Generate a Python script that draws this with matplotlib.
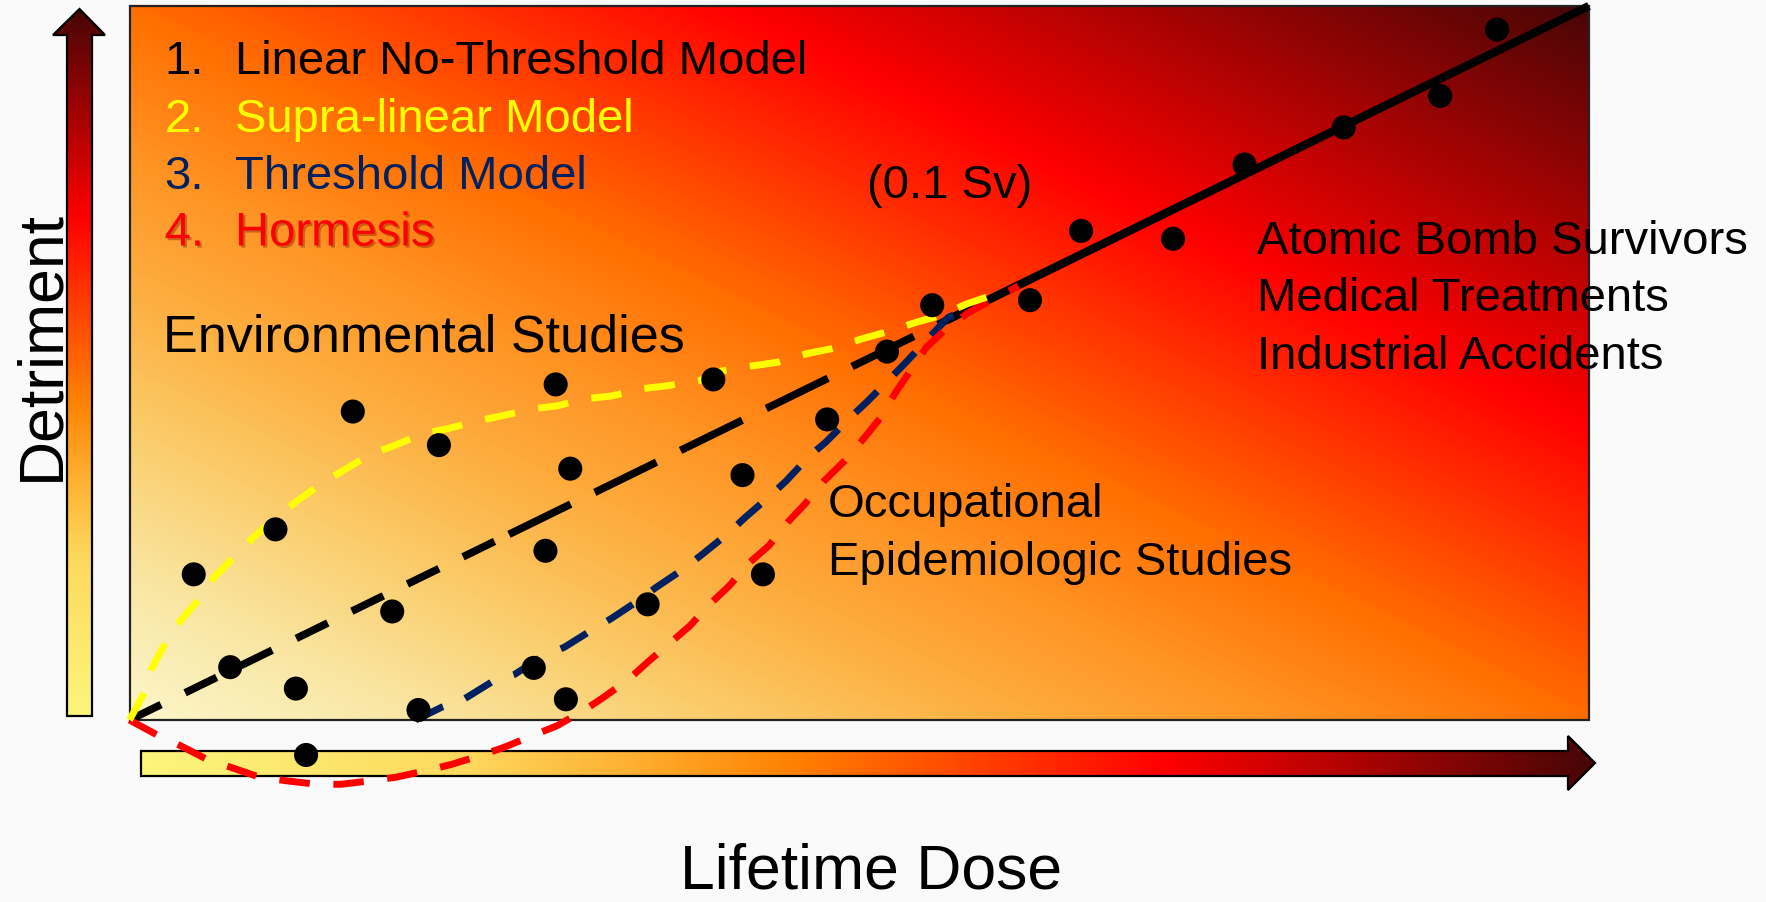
import numpy as np
import matplotlib
matplotlib.use("Agg")
import matplotlib.pyplot as plt
from matplotlib.colors import LinearSegmentedColormap
from matplotlib.patches import Polygon, Rectangle
import matplotlib.patheffects as pe

plt.rcParams['font.family'] = ['Liberation Sans', 'DejaVu Sans']

# ---------------- data (dose / detriment, arbitrary 0-100 units) ----------------
dots_x = [4.4, 6.9, 10.0, 11.4, 12.1, 15.3, 18.0, 19.8, 21.2, 27.7, 28.5, 29.2, 29.9, 30.2,
          35.5, 40.0, 42.0, 43.4, 47.8, 51.9, 55.0, 61.7, 65.2, 71.5, 76.4, 83.2, 89.8, 93.7]
dots_y = [20.4, 7.4, 26.7, 4.4, -4.9, 43.2, 15.2, 1.4, 38.5, 7.3, 23.7, 47.0, 2.9, 35.2,
          16.2, 47.7, 34.3, 20.4, 42.1, 51.6, 58.1, 58.8, 68.5, 67.4, 77.8, 83.0, 87.4, 96.7]

# 1. Linear no-threshold model (low-dose extrapolation dashed, observed range solid)
lnt_low_x, lnt_low_y = [0, 26], [0, 26]
lnt_mid_x, lnt_mid_y = [26, 56], [26, 56]
lnt_high_x, lnt_high_y = [56, 100], [56, 100]

# 2. Supra-linear model
supra_x = [0, 1.1, 1.5, 2.6, 3.5, 4.8, 5.8, 7.5, 8.5, 10.2, 11.5, 13.3, 14.6, 16.6, 18.1, 20.1,
           21.8, 23.9, 25.5, 27.7, 29.3, 31.3, 33.1, 35.1, 36.8, 39.0, 40.6, 42.7, 44.4, 46.4,
           48.1, 50.2, 51.8, 53.9, 55.5, 57.4, 60.0]
supra_y = [0, 4.1, 7.1, 11.3, 13.9, 17.0, 20.0, 23.5, 25.6, 28.6, 30.7, 33.3, 34.9, 37.3, 38.4, 40.1,
           40.8, 41.9, 42.6, 43.6, 44.0, 45.0, 45.4, 46.4, 46.8, 47.5, 48.9, 49.6, 50.1, 51.3,
           52.0, 53.4, 54.3, 55.7, 56.6, 58.3, 60.1]

# 3. Threshold model
thresh_x = [19.6, 21.4, 22.9, 24.8, 26.4, 28.2, 29.8, 31.6, 33.0, 34.7, 36.1, 38.0, 39.3, 41.0,
            42.2, 43.9, 45.0, 46.6, 47.7, 49.4, 50.5, 52.2, 53.2, 54.8, 56.1, 57.5]
thresh_y = [0.0, 1.8, 2.9, 5.3, 6.4, 8.8, 10.2, 12.5, 14.2, 16.5, 18.6, 21.2, 23.3, 26.1,
            28.4, 31.4, 33.5, 37.0, 38.9, 42.4, 44.5, 48.0, 50.1, 53.6, 56.4, 57.6]

# 4. Hormesis
horm_x = [0, 1.9, 3.3, 5.3, 6.9, 8.9, 10.7, 12.8, 14.5, 16.6, 18.3, 20.3, 22.1, 24.0, 25.7,
          27.6, 29.3, 31.1, 32.5, 34.2, 35.5, 37.1, 38.4, 39.8, 41.1, 42.4, 43.8, 45.1, 46.3,
          47.6, 48.9, 50.3, 51.4, 52.5, 53.5, 54.6, 55.8, 57.5, 60.1, 60.9]
horm_y = [0, -2.1, -3.4, -5.5, -6.6, -8.0, -8.5, -9.0, -9.0, -8.5, -8.0, -7.1, -6.2, -5.0, -3.8,
          -2.2, -0.8, 1.3, 3.2, 5.7, 8.1, 10.9, 13.2, 16.3, 18.8, 21.9, 24.4, 27.7, 30.3,
          33.5, 36.1, 39.4, 42.2, 45.9, 48.9, 52.2, 54.5, 57.1, 59.9, 60.8]

legend_nums = ["1.", "2.", "3.", "4."]
legend_labels = ["Linear No-Threshold Model", "Supra-linear Model", "Threshold Model", "Hormesis"]
legend_colors = ["#000000", "#FFFF00", "#002060", "#FF0000"]
high_dose_labels = ["Atomic Bomb Survivors", "Medical Treatments", "Industrial Accidents"]
occ_labels = ["Occupational", "Epidemiologic Studies"]

# ---------------- figure ----------------
W, H = 1766, 903
fig = plt.figure(figsize=(W / 100, H / 100), dpi=100, facecolor="#fafafa")

bg_cmap = LinearSegmentedColormap.from_list("bg", [
    (0.0, "#FCF6CA"), (0.1, "#F9E6A2"), (0.2, "#FBCD6C"), (0.3, "#FDAF40"),
    (0.4, "#FF9222"), (0.5, "#FF6E00"), (0.705, "#FF0000"), (1.0, "#480606")])
arr_cmap = LinearSegmentedColormap.from_list("arr", [
    (0.0, "#FCF57C"), (0.22, "#FDD95E"), (0.33, "#FEB234"), (0.45, "#FF8000"),
    (0.705, "#FF0000"), (1.0, "#480606")])

# decoration layer (pixel coordinates, y downward)
deco = fig.add_axes([0, 0, 1, 1], zorder=0)
deco.set_axis_off()

def gradient_arrow(ax, pts, extent, vertical):
    poly = Polygon(pts, closed=True, facecolor="none", edgecolor="black", lw=1.6, zorder=3)
    ax.add_patch(poly)
    g = np.linspace(0, 1, 600)
    img = g.reshape(-1, 1) if vertical else g.reshape(1, -1)
    im = ax.imshow(img, cmap=arr_cmap, extent=extent, origin="lower", aspect="auto",
                   interpolation="bilinear", zorder=2)
    im.set_clip_path(poly)

gradient_arrow(deco, [(67, 717), (67, 36), (53, 36), (79.5, 10), (105, 36), (92, 36), (92, 717)],
               (53, 105, 717, 10), vertical=True)
gradient_arrow(deco, [(141, 752), (1568, 752), (1568, 737), (1595, 764), (1568, 791),
                      (1568, 777), (141, 777)],
               (141, 1595, 791, 737), vertical=False)
deco.set_xlim(0, W)
deco.set_ylim(H, 0)

deco.text(58, 346, "Detriment", rotation=90, rotation_mode="anchor", ha="center",
          va="baseline", fontsize=45, color="black")
deco.text(871, 889, "Lifetime Dose", ha="center", va="baseline", fontsize=45, color="black")

# data layer: the gradient chart area
x0, x1, y_top, y_bot = 129.5, 1589, 7, 721
ax = fig.add_axes([x0 / W, 1 - y_bot / H, (x1 - x0) / W, (y_bot - y_top) / H], zorder=1)
ax.set_axis_off()
ax.patch.set_visible(False)

u = np.linspace(0, 1, 800)
v = np.linspace(0, 1, 400)
U, V = np.meshgrid(u, v)
ax.imshow((U + V) / 2, cmap=bg_cmap, extent=(0, 100, 0, 100), origin="lower",
          aspect="auto", interpolation="bilinear", zorder=0)
ax.add_patch(Rectangle((0, 0), 100, 100, fill=False, edgecolor="#222222", lw=1.6,
                       zorder=1, clip_on=False))

def dashed(x, y, color, lw, on, off, z):
    ln, = ax.plot(x, y, color=color, lw=lw, clip_on=False, zorder=z,
                  solid_capstyle="butt", dash_capstyle="butt")
    ln.set_dashes((on, off))
    return ln

dashed(lnt_low_x, lnt_low_y, "black", 5.5, 4.6, 3.5, 2)
dashed(lnt_mid_x, lnt_mid_y, "black", 5.5, 9.0, 3.5, 2)
ax.plot(lnt_high_x, lnt_high_y, color="black", lw=6, clip_on=False, zorder=2,
        solid_capstyle="butt")
dashed(thresh_x, thresh_y, "#002060", 5, 4.4, 3.4, 3)
dashed(horm_x, horm_y, "#FF0000", 5, 4.4, 3.4, 4)
dashed(supra_x, supra_y, "#FFFF00", 5, 4.4, 3.4, 5)

ax.scatter(dots_x, dots_y, s=300, color="black", edgecolors="none", zorder=6, clip_on=False)
ax.set_xlim(0, 100)
ax.set_ylim(0, 100)

# text layer (pixel coordinates)
top = fig.add_axes([0, 0, 1, 1], zorder=2)
top.set_axis_off()
top.patch.set_visible(False)
top.set_xlim(0, W)
top.set_ylim(H, 0)

shadow = [pe.withSimplePatchShadow(offset=(1.5, -1.5), shadow_rgbFace="#7a1500", alpha=0.4)]
for i, (num, lab, col) in enumerate(zip(legend_nums, legend_labels, legend_colors)):
    yb = 74 + i * 57.5
    kw = dict(fontsize=34, color=col, va="baseline", ha="left")
    if i == 3:
        kw["path_effects"] = shadow
    top.text(164.6, yb, num, **kw)
    top.text(235, yb, lab, **kw)

top.text(162.6, 352, "Environmental Studies", fontsize=37.5, va="baseline", ha="left")
top.text(867, 198, "(0.1 Sv)", fontsize=34, va="baseline", ha="left")
for i, lab in enumerate(high_dose_labels):
    top.text(1257, 254 + i * 57.5, lab, fontsize=34, va="baseline", ha="left")
for i, lab in enumerate(occ_labels):
    top.text(828, 516.7 + i * 58.3, lab, fontsize=34, va="baseline", ha="left")

fig.savefig("out.png", dpi=100, facecolor=fig.get_facecolor())
